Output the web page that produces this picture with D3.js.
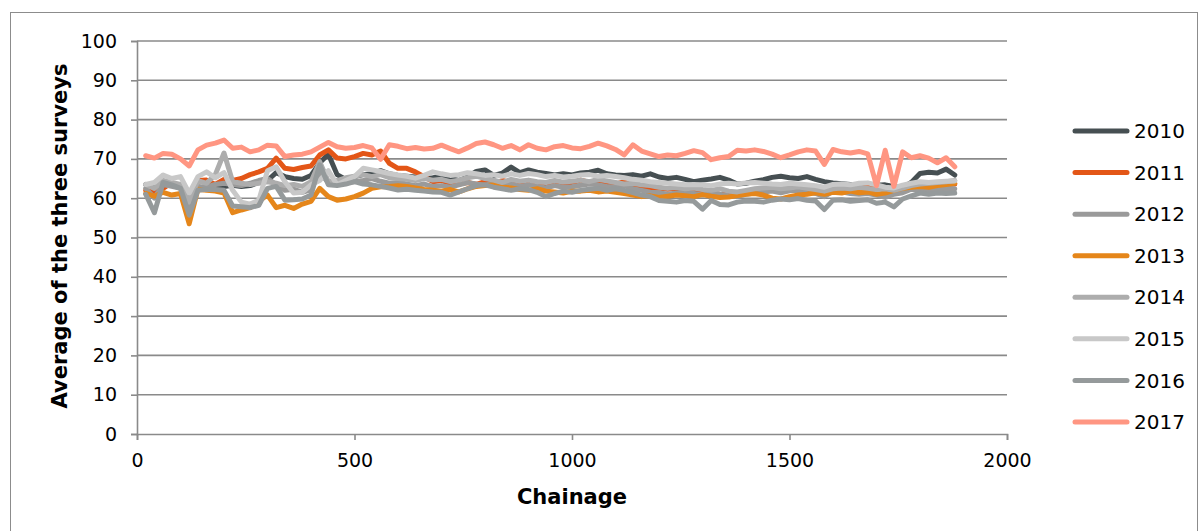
<!DOCTYPE html>
<html>
<head>
<meta charset="utf-8">
<script src="https://cdn.jsdelivr.net/npm/d3@7"></script>
<style>
  html, body { margin: 0; padding: 0; background: #ffffff; }
  svg { display: block; font-family: "DejaVu Sans", Verdana, sans-serif; }
</style>
</head>
<body>
<svg id="chart" width="1202" height="531"></svg>
<script>
// ---------- DATA ----------
const chainage = [
  20,40,60,80,100,120,140,160,180,200,
  220,240,260,280,300,320,340,360,380,400,
  420,440,460,480,500,520,540,560,580,600,
  620,640,660,680,700,720,740,760,780,800,
  820,840,860,880,900,920,940,960,980,1000,
  1020,1040,1060,1080,1100,1120,1140,1160,1180,1200,
  1220,1240,1260,1280,1300,1320,1340,1360,1380,1400,
  1420,1440,1460,1480,1500,1520,1540,1560,1580,1600,
  1620,1640,1660,1680,1700,1720,1740,1760,1780,1800,
  1820,1840,1860,1880
];

const years = ["2010","2011","2012","2013","2014","2015","2016","2017"];
const colors = ["#464f52","#e35617","#9a9a9a","#e5861a","#adadad","#c8c8c8","#959a9b","#ff9682"];

const y2010 = [
  63.5,62.8,63.8,63.2,62.8,60.5,62.5,63.0,63.2,63.0,
  63.3,63.0,63.2,64.0,64.5,66.5,65.5,65.0,64.8,65.8,
  69.0,71.2,66.0,64.8,65.5,66.0,66.2,67.0,66.2,65.8,
  65.6,65.4,65.0,65.2,65.5,65.0,64.5,65.4,66.8,67.2,
  65.8,66.4,67.9,66.5,67.2,66.6,66.3,65.9,66.2,65.9,
  66.4,66.6,67.1,66.2,65.9,65.8,66.0,65.6,66.2,65.4,
  65.0,65.3,64.8,64.2,64.6,64.9,65.3,64.6,63.6,63.8,
  64.3,64.7,65.3,65.6,65.2,65.0,65.5,64.8,64.2,63.9,
  63.7,63.5,63.4,63.5,63.3,63.4,63.0,62.6,64.0,66.3,
  66.6,66.4,67.4,65.9
];
const y2011 = [
  62.0,61.5,62.5,64.0,63.0,58.0,64.5,64.6,63.5,64.8,
  64.5,65.0,66.0,66.7,67.6,70.2,67.6,67.3,67.8,68.2,
  71.0,72.3,70.2,70.0,70.6,71.4,71.0,72.0,68.9,67.6,
  67.6,66.7,65.5,64.2,64.5,63.8,63.6,64.0,63.5,64.2,
  63.8,64.5,64.0,63.6,64.0,63.2,63.8,64.2,63.6,63.9,
  64.6,64.0,63.8,64.0,63.6,64.2,63.2,62.8,62.5,62.6,
  62.3,62.5,62.0,61.8,61.6,61.3,61.0,60.9,60.8,61.2,
  61.8,62.1,62.3,62.0,62.1,62.4,62.2,62.6,62.4,62.5,
  62.4,62.7,62.5,62.8,62.4,62.5,62.3,62.6,62.9,63.3,
  63.3,63.5,63.4,63.6
];
const y2012 = [
  62.5,60.0,63.5,63.0,62.5,57.5,63.0,62.8,63.5,63.8,
  63.5,63.2,63.8,64.5,65.0,63.5,62.0,62.3,61.5,62.2,
  66.5,64.0,63.5,64.0,64.2,64.5,65.0,64.3,63.8,64.0,
  63.6,63.2,63.6,63.0,63.2,62.8,63.4,64.0,63.6,63.3,
  63.8,63.2,63.6,63.0,63.4,63.0,62.6,63.2,62.8,62.9,
  63.3,63.6,63.4,63.0,62.8,63.2,62.4,62.0,61.5,61.4,
  61.0,61.3,61.6,61.2,60.8,61.5,61.0,60.6,60.5,61.0,
  61.3,61.6,61.8,61.4,61.9,62.0,61.6,61.2,60.4,61.8,
  61.6,61.2,61.0,61.2,60.8,60.2,61.0,61.4,62.3,62.0,
  62.3,62.1,62.5,62.4
];
const y2013 = [
  61.2,60.5,61.5,60.8,61.2,53.5,62.3,62.0,61.8,61.3,
  56.3,57.0,57.6,59.2,60.8,57.6,58.2,57.4,58.5,59.2,
  62.5,60.4,59.5,59.8,60.4,61.3,62.5,62.9,63.0,63.2,
  63.0,62.6,62.2,62.0,61.8,62.2,61.6,62.4,63.0,63.2,
  63.4,62.8,62.6,62.2,62.0,62.4,61.8,61.6,61.3,61.8,
  61.8,62.0,61.6,61.8,61.5,61.2,60.8,60.4,60.6,60.2,
  60.5,60.8,60.6,60.4,60.9,60.5,60.2,60.3,60.7,61.0,
  61.2,60.8,60.0,59.8,60.4,60.8,61.0,61.4,61.0,61.5,
  61.3,61.8,61.4,61.6,61.0,61.3,62.0,62.5,62.8,63.0,
  62.8,63.2,63.5,63.8
];
const y2014 = [
  63.5,62.5,64.5,64.0,63.5,59.0,64.5,63.8,66.0,71.5,
  64.2,63.8,63.5,63.8,64.2,63.8,63.2,63.5,63.0,64.2,
  69.3,64.2,64.5,65.2,65.6,66.0,65.5,66.0,65.2,65.0,
  64.8,64.5,65.0,64.6,64.8,64.2,64.6,65.2,65.6,65.0,
  64.6,64.0,64.8,64.3,64.6,64.2,64.0,64.5,64.1,64.3,
  64.6,64.2,64.8,64.4,64.0,63.6,63.8,63.4,63.2,62.8,
  62.5,62.8,62.4,62.6,62.2,62.0,62.4,61.8,61.6,62.0,
  62.4,62.6,62.8,62.4,62.6,62.9,62.5,62.2,61.8,62.4,
  62.6,62.4,62.8,62.5,62.2,62.4,62.0,62.6,63.2,63.6,
  63.8,64.0,64.2,64.5
];
const y2015 = [
  63.5,64.0,65.9,65.0,65.5,61.3,65.5,66.7,65.2,66.5,
  62.0,59.0,58.5,59.5,67.0,68.0,64.2,61.3,61.5,63.4,
  64.5,67.0,63.4,64.5,65.5,67.6,67.2,66.8,66.3,65.9,
  65.6,65.1,65.8,66.7,66.2,65.8,66.0,66.5,66.2,65.8,
  66.0,65.6,66.2,65.8,66.3,66.0,65.5,65.8,65.4,65.6,
  65.9,66.0,65.6,65.8,65.5,65.2,64.8,64.6,64.2,64.0,
  63.8,63.6,63.4,63.5,63.4,63.2,63.6,63.8,63.6,63.9,
  64.0,63.8,63.6,63.5,63.8,63.6,63.4,63.2,62.8,63.5,
  63.6,63.4,63.8,63.9,63.4,62.8,62.6,63.3,63.8,64.2,
  64.0,64.2,64.3,64.4
];
const y2016 = [
  61.0,56.3,64.0,63.4,62.5,55.7,62.0,62.3,62.2,62.0,
  58.0,57.8,57.6,58.2,62.5,63.0,59.5,59.6,59.8,60.8,
  68.5,63.4,63.2,63.6,64.2,63.6,63.4,63.0,62.6,62.1,
  62.3,62.0,61.8,61.6,61.5,60.8,61.6,62.4,63.2,63.4,
  62.8,62.4,62.0,62.4,62.2,61.5,60.4,61.2,61.8,61.5,
  62.0,62.3,62.5,62.0,62.4,62.0,61.4,60.8,60.4,59.4,
  59.2,59.0,59.4,59.2,57.2,59.4,58.4,58.3,59.0,59.3,
  59.2,59.0,59.5,59.8,59.6,59.9,59.5,59.3,57.1,59.5,
  59.6,59.2,59.4,59.6,58.7,59.0,57.8,59.8,60.6,61.3,
  61.0,61.3,61.2,61.3
];
const y2017 = [
  70.8,70.2,71.4,71.2,70.0,68.2,72.3,73.5,74.0,74.8,
  72.7,73.0,71.8,72.3,73.5,73.3,70.6,71.0,71.2,71.8,
  73.0,74.2,73.1,72.7,72.9,73.4,72.8,69.9,73.6,73.2,
  72.6,72.9,72.5,72.7,73.5,72.6,71.8,72.8,73.9,74.3,
  73.6,72.7,73.4,72.3,73.6,72.7,72.3,73.1,73.4,72.8,
  72.6,73.2,74.0,73.3,72.4,71.0,73.6,72.0,71.3,70.6,
  71.0,70.8,71.4,72.1,71.6,69.8,70.3,70.6,72.2,72.0,
  72.3,71.9,71.2,70.3,71.0,71.8,72.3,72.0,68.6,72.4,
  71.8,71.5,71.9,71.3,63.2,72.2,63.0,71.8,70.3,70.8,
  70.2,69.0,70.3,68.0
];

const seriesValues = [y2010, y2011, y2012, y2013, y2014, y2015, y2016, y2017];
const xTicks = [0, 500, 1000, 1500, 2000];
const yTicks = [0,10,20,30,40,50,60,70,80,90,100];

// ---------- CHART ----------
const svg = d3.select("#chart");
const gridColor = "#8a8a8a";

// outer frame
svg.append("rect")
  .attr("x", 10.5).attr("y", 12.5)
  .attr("width", 1187).attr("height", 540)
  .attr("fill", "none").attr("stroke", "#8c8c8c").attr("stroke-width", 1);

const x = d3.scaleLinear().domain([0, 2000]).range([137, 1007]);
const y = d3.scaleLinear().domain([0, 100]).range([434, 41]);

// gridlines
svg.append("g").selectAll("line")
  .data(yTicks.filter(d => d > 0))
  .join("line")
  .attr("x1", x(0)).attr("x2", x(2000))
  .attr("y1", d => y(d)).attr("y2", d => y(d))
  .attr("stroke", gridColor).attr("stroke-width", 1.6);

// y axis
const yAxis = svg.append("g")
  .attr("transform", `translate(${x(0)},0)`)
  .call(d3.axisLeft(y).tickValues(yTicks).tickSize(6).tickPadding(14).tickFormat(d3.format("d")));
yAxis.select(".domain").attr("stroke", gridColor).attr("stroke-width", 1.6);
yAxis.selectAll(".tick line").attr("stroke", gridColor).attr("stroke-width", 1.6);
yAxis.selectAll(".tick text")
  .attr("fill", "#000").style("font-size", "19px")
  .style("font-family", "'DejaVu Sans', Verdana, sans-serif");

// x axis
const xAxis = svg.append("g")
  .attr("transform", `translate(0,${y(0)})`)
  .call(d3.axisBottom(x).tickValues(xTicks).tickSize(6).tickPadding(14).tickFormat(d3.format("d")));
xAxis.select(".domain").attr("stroke", gridColor).attr("stroke-width", 1.6);
xAxis.selectAll(".tick line").attr("stroke", gridColor).attr("stroke-width", 1.6);
xAxis.selectAll(".tick text")
  .attr("fill", "#000").style("font-size", "19px")
  .style("font-family", "'DejaVu Sans', Verdana, sans-serif");

// series lines
const line = d3.line()
  .x((d, i) => x(chainage[i]))
  .y(d => y(d));

svg.append("g").selectAll("path")
  .data(seriesValues)
  .join("path")
  .attr("d", d => line(d))
  .attr("fill", "none")
  .attr("stroke", (d, i) => colors[i])
  .attr("stroke-width", 5)
  .attr("stroke-linejoin", "round")
  .attr("stroke-linecap", "round");

// axis titles
svg.append("text")
  .attr("x", 572).attr("y", 504)
  .attr("text-anchor", "middle")
  .style("font-size", "21px").style("font-weight", "bold")
  .text("Chainage");

svg.append("text")
  .attr("transform", "translate(67,236) rotate(-90)")
  .attr("text-anchor", "middle")
  .style("font-size", "21px").style("font-weight", "bold")
  .text("Average of the three surveys");

// legend
const legendY = d3.scaleLinear().domain([0, 7]).range([131, 422]);
const legend = svg.append("g");
years.forEach((yr, i) => {
  legend.append("line")
    .attr("x1", 1075).attr("x2", 1127)
    .attr("y1", legendY(i)).attr("y2", legendY(i))
    .attr("stroke", colors[i]).attr("stroke-width", 5)
    .attr("stroke-linecap", "round");
  legend.append("text")
    .attr("x", 1134).attr("y", legendY(i))
    .attr("dy", "0.36em")
    .style("font-size", "20px")
    .text(yr);
});
</script>
</body>
</html>
